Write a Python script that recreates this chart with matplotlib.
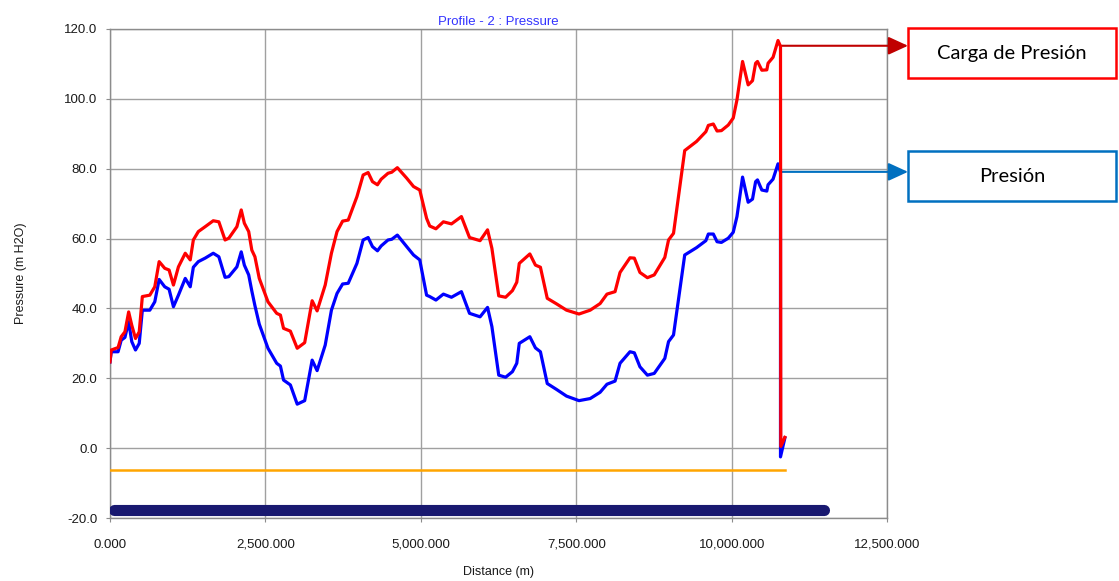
import matplotlib
matplotlib.use("Agg")
import matplotlib.pyplot as plt
from matplotlib.patches import Rectangle
from matplotlib.ticker import FuncFormatter, MultipleLocator

# profile nodes (m) shared by both series
distance = [
    0, 20, 130, 180, 240, 300, 350, 410, 470, 520, 640, 720, 790, 880, 950,
    1020, 1100, 1210, 1290, 1340, 1420, 1530, 1660, 1750, 1850, 1910, 2040,
    2110, 2160, 2230, 2280, 2330, 2400, 2540, 2680, 2740, 2790, 2900, 3010,
    3130, 3250, 3330, 3460, 3560, 3650, 3740, 3830, 3970, 4070, 4150, 4220,
    4300, 4360, 4470, 4530, 4620, 4770, 4880, 4980, 5090, 5140, 5240, 5360,
    5490, 5650, 5780, 5950, 6070, 6140, 6250, 6360, 6470, 6540, 6580, 6750,
    6840, 6920, 7030, 7180, 7340, 7540, 7720, 7880, 7990, 8120, 8200, 8360,
    8430, 8520, 8640, 8750, 8920, 8980, 9060, 9240, 9430, 9580, 9620, 9700,
    9760, 9830, 9940, 10020, 10080, 10170, 10260, 10330, 10380, 10410, 10480,
    10560, 10580, 10660, 10740,
]
# pressure head (red) and pressure (blue), m H2O
head = [
    24.7, 28.1, 28.8, 31.9, 33.3, 39.0, 35.2, 31.4, 33.3, 43.4, 43.8, 46.2,
    53.4, 51.5, 51.0, 46.7, 51.9, 55.8, 53.9, 59.6, 62.0, 63.4, 65.1, 64.8,
    59.6, 60.1, 63.4, 68.2, 64.4, 62.0, 56.7, 54.8, 48.6, 41.9, 38.6, 38.1,
    34.3, 33.5, 28.6, 30.2, 42.2, 39.3, 46.7, 55.8, 62.0, 65.0, 65.3, 72.0,
    78.2, 78.9, 76.3, 75.4, 77.0, 78.7, 79.0, 80.3, 77.3, 74.9, 73.9, 65.8,
    63.6, 62.8, 64.8, 64.2, 66.3, 60.3, 59.4, 62.5, 57.2, 43.6, 43.2, 45.1,
    47.5, 52.9, 55.6, 52.4, 51.8, 42.9, 41.3, 39.5, 38.4, 39.5, 41.4, 44.1,
    44.8, 50.3, 54.5, 54.4, 50.3, 48.8, 49.6, 54.6, 59.6, 61.5, 85.2, 87.8,
    90.6, 92.4, 92.8, 90.8, 90.9, 92.5, 94.5, 99.7, 110.7, 104.0, 105.2,
    110.2, 110.7, 108.2, 108.3, 110.2, 111.9, 116.7,
]
pressure = [
    24.7, 27.6, 27.6, 30.9, 31.7, 36.2, 30.5, 28.1, 30.0, 39.5, 39.5, 41.9,
    48.3, 46.2, 45.5, 40.5, 43.8, 48.6, 46.2, 51.8, 53.4, 54.4, 55.8, 54.8,
    48.9, 49.1, 51.9, 56.2, 52.4, 49.6, 45.0, 40.8, 35.5, 28.6, 24.3, 23.5,
    19.5, 18.1, 12.6, 13.6, 25.2, 22.2, 29.5, 39.5, 44.3, 47.0, 47.2, 52.9,
    59.6, 60.3, 57.7, 56.5, 57.9, 59.6, 59.8, 61.0, 57.7, 55.3, 53.9, 43.8,
    43.4, 42.4, 44.1, 43.2, 44.8, 38.6, 37.6, 40.3, 34.8, 20.9, 20.3, 21.9,
    24.3, 30.0, 31.9, 28.7, 27.6, 18.5, 16.8, 14.9, 13.6, 14.2, 16.0, 18.3,
    19.2, 24.3, 27.6, 27.3, 23.3, 20.9, 21.4, 25.7, 30.5, 32.4, 55.3, 57.4,
    59.4, 61.3, 61.3, 59.1, 58.9, 60.1, 61.8, 66.3, 77.6, 70.4, 71.3, 76.3,
    76.8, 73.9, 73.6, 75.4, 77.0, 81.4,
]
# last node of each series drops to ~0
head_tail_x = [10780, 10785, 10850]
head_tail = [115.0, 0.5, 3.1]
pres_tail_x = [10780, 10780, 10850]
pres_tail = [79.0, -2.5, 2.9]

# reference lines at the bottom
ref_x = [0, 10860]
ref_y = [-6.3, -6.3]
nodes_x = [60, 11480]
nodes_y = [-17.7, -17.7]

COLOR_HEAD = "#ff0000"
COLOR_PRES = "#0000ff"
COLOR_GRID = "#a0a0a0"
COLOR_TEXT = "#1a1a1a"

plt.rcParams["font.family"] = ["Liberation Sans", "DejaVu Sans"]

fig = plt.figure(figsize=(11.19, 5.81), dpi=100)
fig.patch.set_facecolor("white")
ax = fig.add_axes([0.0983, 0.1084, 0.6948, 0.8417])

ax.plot(nodes_x, nodes_y, color="#191970", lw=8, solid_capstyle="round", zorder=3)
ax.plot(ref_x, ref_y, color="#ffa500", lw=1.8, zorder=3)
ax.plot(distance + pres_tail_x, pressure + pres_tail, color=COLOR_PRES, lw=2.3, zorder=4)
ax.plot(distance + head_tail_x, head + head_tail, color=COLOR_HEAD, lw=2.3, zorder=5)

ax.set_xlim(0, 12500)
ax.set_ylim(-20, 120)
ax.xaxis.set_major_locator(MultipleLocator(2500))
ax.yaxis.set_major_locator(MultipleLocator(20))
ax.xaxis.set_major_formatter(FuncFormatter(lambda v, p: f"{v:,.3f}"))
ax.yaxis.set_major_formatter(FuncFormatter(lambda v, p: f"{v:.1f}"))
ax.grid(True, color=COLOR_GRID, lw=1.0, zorder=0)
ax.set_axisbelow(True)
for spine in ax.spines.values():
    spine.set_color("#8c8c8c")
    spine.set_linewidth(1.0)
ax.tick_params(length=3, color="#8c8c8c", labelsize=9.5, labelcolor=COLOR_TEXT)
ax.tick_params(axis="x", pad=12)
ax.tick_params(axis="y", pad=6)

ax.set_title("Profile - 2 : Pressure", fontsize=9.5, color="#3333ff", pad=3)
ax.set_xlabel("Distance (m)", fontsize=9, color=COLOR_TEXT, labelpad=11)
ax.set_ylabel("Pressure (m H2O)", fontsize=9, color=COLOR_TEXT, labelpad=27)

# callout boxes on the right
W, H = 1119, 581
boxes = [
    ("Carga de Presión", "#ff0000", "#c00000", 28, 78, 115.2),
    ("Presión", "#0070c0", "#0070c0", 151, 201, 79.1),
]
for label, edge, arrow_col, top, bot, y_val in boxes:
    x0 = 908 / W
    rect = Rectangle((x0, 1 - bot / H), 208 / W, (bot - top) / H,
                     transform=fig.transFigure, fill=False, edgecolor=edge, lw=1.8)
    fig.patches.append(rect)
    fig.text(x0 + 104 / W, 1 - (top + bot) / 2 / H, label, ha="center", va="center",
             fontsize=14.5, family=["Lato", "DejaVu Sans"], color="black")
    ax.annotate("", xy=(908, ax.transData.transform((0, y_val))[1]), xycoords="figure pixels",
                xytext=(10780, y_val), textcoords="data",
                arrowprops=dict(arrowstyle="-|>,head_length=1.2,head_width=0.55",
                                color=arrow_col, lw=1.5, shrinkA=0, shrinkB=0),
                annotation_clip=False)

fig.savefig("out.png", dpi=100, facecolor="white")
